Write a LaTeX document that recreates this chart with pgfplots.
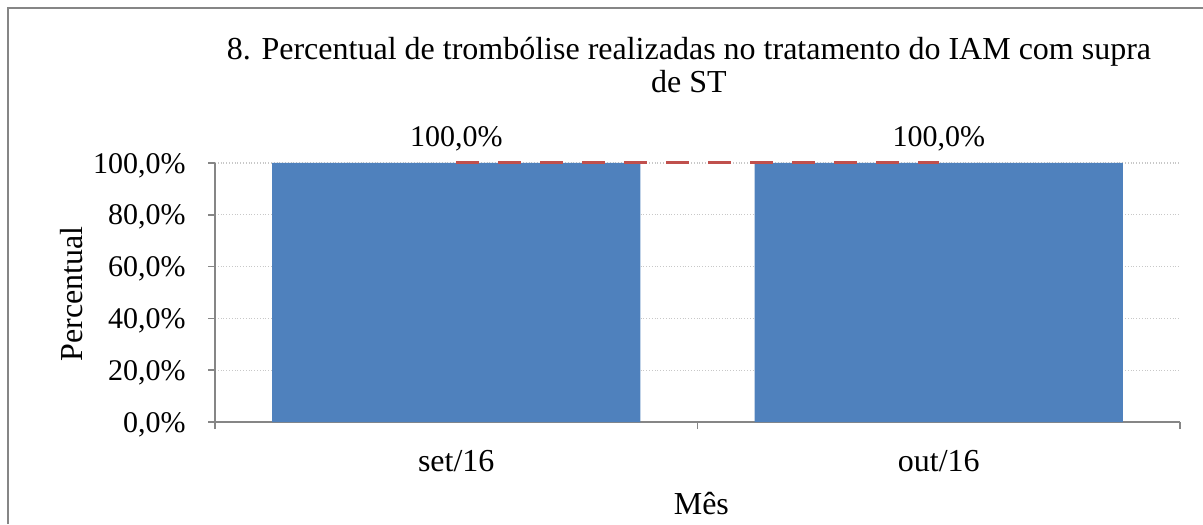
\documentclass[border=0pt]{standalone}
\usepackage{fontspec}
\setmainfont{Liberation Serif}
\usepackage{pgfplots}
\pgfplotsset{compat=1.18}
\definecolor{barblue}{RGB}{79,129,189}
\definecolor{goalred}{RGB}{192,80,77}
\definecolor{axisgray}{RGB}{134,134,134}
\definecolor{gridgray}{RGB}{200,200,200}
\newcommand{\bigfont}{\fontsize{16}{19.2}\selectfont}

\begin{document}
\begin{tikzpicture}[font=\fontsize{15}{18}\selectfont]
\useasboundingbox (0,0) rectangle (601.5pt,262pt);
% chart frame (only left and top visible in the crop)
\draw[axisgray, line width=1.2pt] (4pt,0) -- (4pt,258pt) -- (601.5pt,258pt);
\node[anchor=base, font=\bigfont] at (344.5pt,232pt) {8. Percentual de trombólise realizadas no tratamento do IAM com supra};
\node[anchor=base, font=\bigfont] at (344.5pt,215.5pt) {de ST};
\begin{axis}[
  at={(107.5pt,51pt)}, anchor=south west,
  scale only axis, width=482.5pt, height=129.5pt,
  xmin=-0.5, xmax=1.5, ymin=0, ymax=100,
  clip=false,
  axis x line*=bottom, axis y line*=left,
  axis line style={axisgray, line width=0.8pt},
  tick align=outside, major tick length=3.5pt,
  tick style={axisgray, line width=0.8pt},
  xtick={-0.5,0.5,1.5}, xticklabels={},
  extra x ticks={0,1}, extra x tick labels={set/16,out/16},
  extra x tick style={major tick length=0pt,
    tick label style={anchor=base, inner sep=0pt, yshift=-24.5pt, font=\bigfont}},
  ytick={0,20,...,100},
  yticklabel={\pgfmathprintnumber[fixed,fixed zerofill,precision=1,use comma,assume math mode=true]{\tick}\%},
  yticklabel style={anchor=base east, inner sep=0pt, xshift=-11pt, yshift=-5.1pt},
  ymajorgrids, grid style={gridgray, densely dotted, line width=0.6pt},
  xlabel={Mês}, xlabel style={at={(axis description cs:0.504,-0.359)}, anchor=base, inner sep=0pt, font=\bigfont},
  ylabel={Percentual}, ylabel style={at={(axis description cs:-0.1368,0.494)}, anchor=base, inner sep=0pt, font=\bigfont},
]
\addplot[ybar, bar width=0.763, bar shift=0pt, fill=barblue, draw=none,
  nodes near coords={\pgfmathprintnumber[fixed,fixed zerofill,precision=1,use comma,assume math mode=true]{\pgfplotspointmeta}\%},
  nodes near coords style={anchor=base, yshift=8pt, inner sep=0pt, text=black}]
  coordinates {(0,100) (1,100)};
\addplot[sharp plot, goalred, line width=1.5pt, dash pattern=on 11.5pt off 9.5pt, mark=none]
  coordinates {(0,100) (1,100)};
\end{axis}
\end{tikzpicture}
\end{document}
